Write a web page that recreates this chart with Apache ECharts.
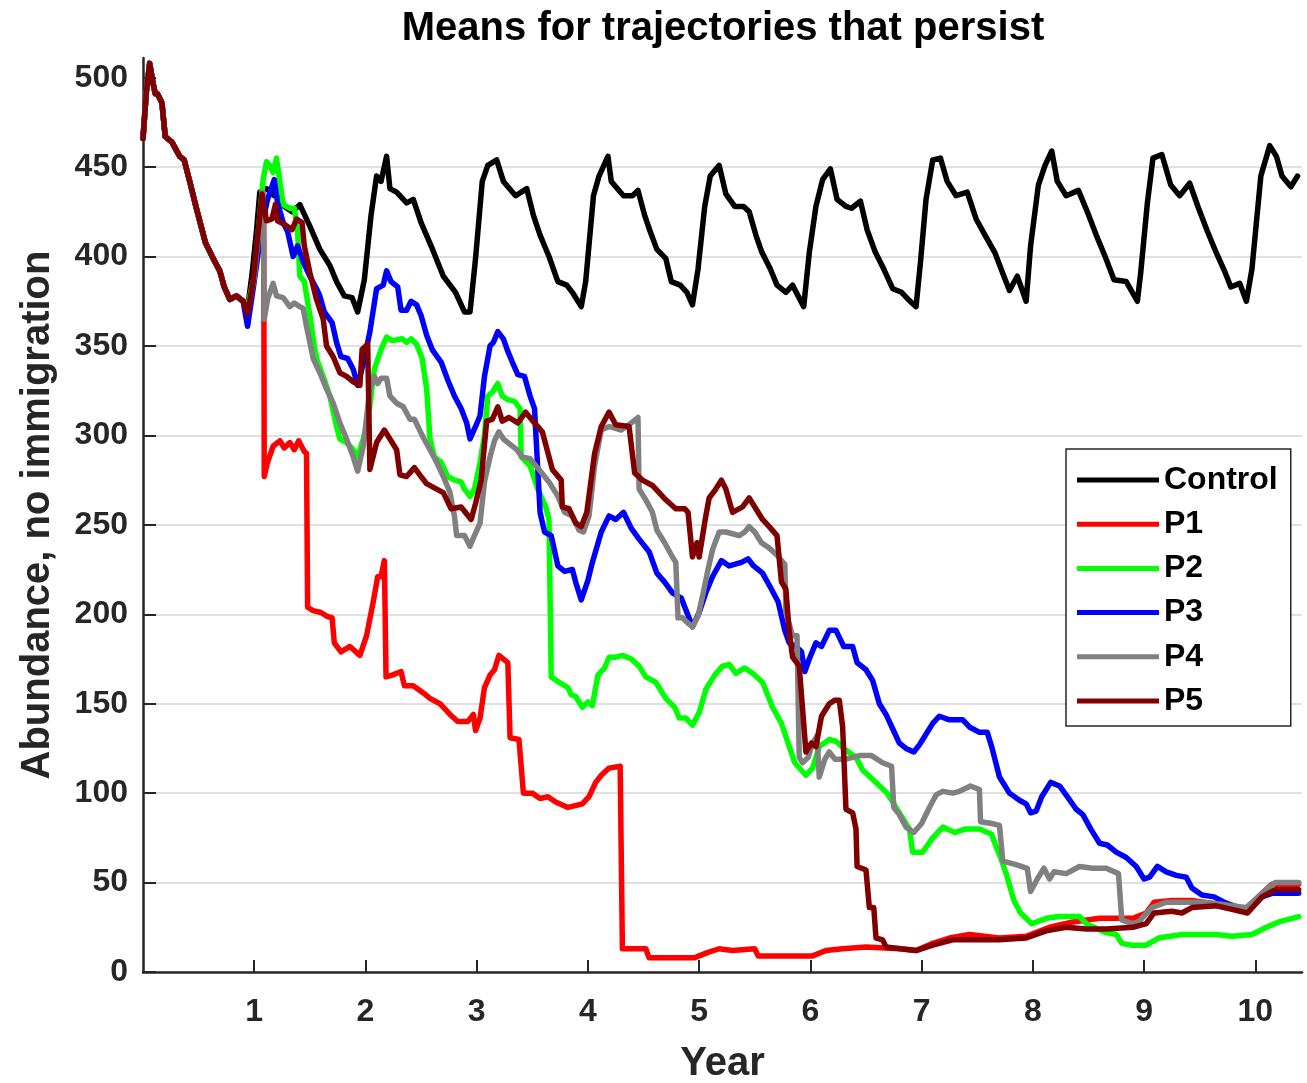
<!DOCTYPE html>
<html>
<head>
<meta charset="utf-8">
<title>Means for trajectories that persist</title>
<script src="https://cdn.jsdelivr.net/npm/echarts@6/dist/echarts.min.js"></script>
<style>
  html, body { margin: 0; padding: 0; background: #fff; }
  #chart { width: 1307px; height: 1083px; }
</style>
</head>
<body>
<div id="chart"></div>
<script>
// [year, abundance]
const commonStart = [[0,466],[0.03,492],[0.06,508],[0.09,497],[0.11,491],[0.13,491],[0.17,486],[0.2,467],[0.26,464],[0.33,456],[0.37,454],[0.42,442],[0.48,427],[0.56,408],[0.63,399],[0.69,392],[0.73,383],[0.78,376],[0.84,378],[0.9,375]];

const controlTail = [[0.94,371],[0.98,390],[1.02,414],[1.05,436],[1.11,438],[1.18,434],[1.23,434],[1.27,428],[1.34,425],[1.41,429],[1.5,417],[1.59,404],[1.68,395],[1.74,386],[1.81,378],[1.88,377],[1.93,369],[1.99,387],[2.05,423],[2.1,445],[2.14,442],[2.19,456],[2.22,438],[2.28,436],[2.37,430],[2.43,432],[2.5,419],[2.59,406],[2.7,389],[2.81,380],[2.89,369],[2.94,369],[2.99,399],[3.05,442],[3.1,451],[3.18,454],[3.24,442],[3.35,434],[3.45,438],[3.51,423],[3.57,412],[3.65,400],[3.73,386],[3.81,384],[3.86,380],[3.94,372],[3.98,386],[4.05,434],[4.1,445],[4.18,456],[4.21,442],[4.32,434],[4.4,434],[4.45,437],[4.51,423],[4.56,414],[4.62,404],[4.7,399],[4.75,386],[4.83,384],[4.89,380],[4.94,373],[4.99,393],[5.05,428],[5.1,445],[5.18,451],[5.24,435],[5.32,428],[5.4,428],[5.45,425],[5.51,412],[5.56,403],[5.64,393],[5.7,384],[5.78,380],[5.84,384],[5.94,372],[5.99,402],[6.05,428],[6.11,443],[6.18,449],[6.24,432],[6.32,428],[6.37,427],[6.45,431],[6.51,415],[6.58,403],[6.66,393],[6.74,382],[6.82,380],[6.88,376],[6.95,372],[6.99,397],[7.04,432],[7.1,454],[7.17,455],[7.23,442],[7.31,434],[7.41,436],[7.49,421],[7.57,412],[7.66,402],[7.74,389],[7.79,381],[7.86,389],[7.94,375],[7.98,406],[8.05,440],[8.11,451],[8.17,459],[8.22,442],[8.3,434],[8.41,437],[8.49,425],[8.57,412],[8.65,400],[8.73,387],[8.84,386],[8.94,375],[8.97,391],[9.03,430],[9.08,455],[9.16,457],[9.24,440],[9.32,434],[9.41,441],[9.49,427],[9.57,414],[9.65,402],[9.73,391],[9.78,383],[9.86,385],[9.92,375],[9.97,393],[10.05,445],[10.13,462],[10.19,456],[10.24,445],[10.32,439],[10.38,445]];

const p1Tail = [[0.94,369],[0.98,380],[1.03,405],[1.07,420],[1.085,432],[1.09,277],[1.12,285],[1.17,294],[1.23,297],[1.27,293],[1.32,296],[1.36,292],[1.4,297],[1.45,291],[1.47,290],[1.48,204],[1.53,202],[1.6,201],[1.65,199],[1.7,198],[1.72,184],[1.78,179],[1.86,182],[1.95,177],[2.01,188],[2.07,207],[2.11,221],[2.14,221],[2.17,230],[2.185,165],[2.24,166],[2.32,168],[2.35,160],[2.43,160],[2.52,156],[2.58,153],[2.67,150],[2.76,144],[2.83,140],[2.92,140],[2.97,144],[2.99,135],[3.03,142],[3.07,159],[3.12,166],[3.16,169],[3.2,177],[3.28,173],[3.3,131],[3.38,130],[3.42,100],[3.5,100],[3.57,97],[3.64,98],[3.71,95],[3.82,92],[3.95,94],[4.01,98],[4.07,106],[4.12,110],[4.19,114],[4.29,115],[4.31,13],[4.44,13],[4.52,13],[4.55,8],[4.7,8],[4.96,8],[5.0,9],[5.08,11],[5.18,13],[5.3,12],[5.5,13],[5.53,9],[5.75,9],[6.02,9],[6.14,12],[6.29,13],[6.5,14],[6.8,13],[6.95,12],[7.1,16],[7.25,19],[7.43,21],[7.7,19],[7.94,20],[8.15,25],[8.36,28],[8.6,30],[8.75,30],[8.9,30],[9.02,33],[9.09,39],[9.25,40],[9.43,40],[9.65,38],[9.79,36],[9.93,35],[10.06,44],[10.15,49],[10.39,49]];

const p2Tail = [[0.94,372],[1.0,389],[1.08,443],[1.11,453],[1.14,451],[1.17,447],[1.2,455],[1.23,442],[1.26,429],[1.32,427],[1.36,427],[1.39,414],[1.41,389],[1.45,386],[1.5,367],[1.54,350],[1.56,343],[1.62,333],[1.68,322],[1.74,305],[1.77,298],[1.83,296],[1.89,292],[1.93,288],[1.98,298],[2.02,307],[2.08,337],[2.14,348],[2.19,355],[2.24,353],[2.33,354],[2.37,352],[2.41,354],[2.46,351],[2.51,343],[2.55,326],[2.58,298],[2.62,288],[2.68,285],[2.74,277],[2.8,275],[2.86,274],[2.89,270],[2.94,266],[2.98,270],[3.03,285],[3.07,300],[3.1,322],[3.14,324],[3.19,329],[3.23,322],[3.28,320],[3.34,319],[3.39,315],[3.4,288],[3.48,283],[3.55,270],[3.62,260],[3.65,253],[3.67,165],[3.74,162],[3.82,159],[3.85,155],[3.89,154],[3.95,148],[4.0,151],[4.04,149],[4.09,166],[4.15,170],[4.19,176],[4.25,176],[4.31,177],[4.39,175],[4.46,171],[4.52,165],[4.61,162],[4.7,153],[4.78,148],[4.82,142],[4.88,142],[4.94,138],[5.0,145],[5.06,158],[5.14,166],[5.21,171],[5.27,172],[5.33,167],[5.41,170],[5.48,167],[5.57,162],[5.66,148],[5.74,139],[5.81,126],[5.86,117],[5.96,110],[6.02,114],[6.08,126],[6.17,130],[6.23,129],[6.32,124],[6.41,120],[6.47,113],[6.59,106],[6.69,100],[6.74,95],[6.82,87],[6.89,80],[6.92,67],[7.01,67],[7.1,75],[7.19,81],[7.3,78],[7.4,80],[7.52,80],[7.63,77],[7.67,70],[7.71,64],[7.76,55],[7.83,40],[7.89,33],[7.99,27],[8.12,30],[8.24,31],[8.42,31],[8.48,27],[8.66,22],[8.75,21],[8.8,16],[8.89,15],[9.02,15],[9.13,19],[9.34,21],[9.65,21],[9.79,20],[9.97,21],[10.1,25],[10.21,28],[10.39,31]];

const p3Tail = [[0.94,361],[1.0,386],[1.07,417],[1.12,432],[1.18,443],[1.21,430],[1.26,419],[1.3,414],[1.35,400],[1.39,406],[1.44,397],[1.5,389],[1.56,382],[1.59,378],[1.63,369],[1.7,363],[1.74,352],[1.78,344],[1.84,343],[1.89,337],[1.93,328],[1.98,340],[2.04,358],[2.1,382],[2.16,384],[2.19,392],[2.23,386],[2.29,383],[2.32,370],[2.37,370],[2.41,375],[2.46,373],[2.5,367],[2.55,356],[2.6,348],[2.68,341],[2.74,331],[2.8,322],[2.86,315],[2.91,307],[2.94,298],[2.99,305],[3.03,311],[3.07,333],[3.12,350],[3.15,352],[3.19,358],[3.24,354],[3.28,347],[3.32,341],[3.37,334],[3.43,333],[3.48,322],[3.52,315],[3.57,257],[3.61,246],[3.67,244],[3.73,227],[3.79,224],[3.86,225],[3.89,218],[3.94,208],[4.0,219],[4.04,229],[4.12,246],[4.19,255],[4.25,253],[4.32,257],[4.39,248],[4.46,242],[4.55,235],[4.62,223],[4.69,218],[4.76,212],[4.84,209],[4.89,201],[4.94,193],[5.0,201],[5.06,212],[5.12,221],[5.2,230],[5.27,227],[5.38,229],[5.44,231],[5.49,227],[5.57,223],[5.65,214],[5.71,207],[5.77,191],[5.81,184],[5.87,182],[5.92,179],[5.95,168],[5.99,175],[6.05,184],[6.1,182],[6.17,191],[6.23,191],[6.3,182],[6.38,182],[6.42,173],[6.5,169],[6.56,163],[6.62,150],[6.68,144],[6.74,136],[6.8,128],[6.86,125],[6.93,123],[6.98,127],[7.02,131],[7.1,139],[7.16,143],[7.25,141],[7.37,141],[7.43,137],[7.52,134],[7.59,134],[7.63,126],[7.7,109],[7.79,100],[7.88,96],[7.94,94],[7.98,89],[8.03,90],[8.08,98],[8.16,106],[8.24,104],[8.31,98],[8.39,91],[8.45,88],[8.52,80],[8.6,72],[8.67,71],[8.75,67],[8.84,64],[8.93,59],[9.0,52],[9.05,53],[9.12,59],[9.2,56],[9.29,54],[9.38,53],[9.43,47],[9.52,43],[9.63,42],[9.72,39],[9.85,36],[9.94,34],[10.06,42],[10.15,44],[10.39,44]];

const p4Tail = [[0.94,369],[1.0,388],[1.05,420],[1.08,436],[1.09,365],[1.12,376],[1.17,385],[1.2,378],[1.26,377],[1.32,372],[1.36,374],[1.41,372],[1.44,371],[1.47,361],[1.53,343],[1.59,335],[1.65,326],[1.71,318],[1.77,307],[1.83,298],[1.89,288],[1.93,280],[1.98,294],[2.04,326],[2.08,333],[2.11,329],[2.14,332],[2.19,332],[2.22,322],[2.28,318],[2.34,316],[2.4,309],[2.44,309],[2.51,300],[2.58,292],[2.64,285],[2.7,277],[2.76,268],[2.8,255],[2.82,244],[2.89,244],[2.94,238],[2.98,244],[3.03,251],[3.07,274],[3.12,288],[3.16,297],[3.2,302],[3.24,298],[3.3,295],[3.36,292],[3.41,288],[3.48,287],[3.56,281],[3.65,274],[3.73,266],[3.79,257],[3.86,255],[3.92,247],[3.96,246],[4.01,255],[4.06,283],[4.12,303],[4.19,305],[4.3,303],[4.39,307],[4.45,310],[4.46,270],[4.52,264],[4.58,257],[4.62,247],[4.69,240],[4.76,232],[4.79,229],[4.81,198],[4.85,198],[4.9,195],[4.94,193],[4.99,199],[5.03,210],[5.08,225],[5.12,236],[5.18,246],[5.24,246],[5.3,245],[5.36,244],[5.41,246],[5.45,249],[5.5,246],[5.56,240],[5.63,237],[5.7,233],[5.77,228],[5.78,201],[5.84,188],[5.88,188],[5.9,120],[5.93,117],[5.98,120],[6.02,128],[6.06,132],[6.08,109],[6.13,119],[6.17,123],[6.22,119],[6.32,119],[6.44,121],[6.55,121],[6.65,117],[6.73,115],[6.75,92],[6.8,88],[6.86,81],[6.93,78],[7.0,83],[7.07,92],[7.13,99],[7.19,101],[7.28,100],[7.34,101],[7.44,104],[7.52,102],[7.53,84],[7.63,83],[7.7,82],[7.73,62],[7.85,60],[7.95,58],[7.98,45],[8.04,52],[8.1,58],[8.15,52],[8.19,56],[8.3,55],[8.42,59],[8.54,58],[8.66,58],[8.77,55],[8.8,29],[8.9,27],[8.95,28],[9.07,36],[9.2,39],[9.34,39],[9.5,39],[9.68,38],[9.92,36],[10.06,44],[10.18,50],[10.39,50]];

const p5Tail = [[0.94,368],[0.99,386],[1.07,435],[1.11,420],[1.16,421],[1.19,429],[1.21,420],[1.27,418],[1.34,415],[1.38,421],[1.43,419],[1.45,406],[1.5,391],[1.56,376],[1.62,365],[1.65,350],[1.71,344],[1.77,335],[1.83,333],[1.89,330],[1.95,328],[1.97,348],[2.02,351],[2.04,281],[2.1,296],[2.17,303],[2.23,297],[2.28,292],[2.31,278],[2.37,277],[2.44,282],[2.5,277],[2.55,273],[2.64,270],[2.7,268],[2.77,259],[2.86,260],[2.95,253],[2.99,262],[3.04,275],[3.09,308],[3.14,309],[3.19,316],[3.23,308],[3.29,310],[3.37,307],[3.44,313],[3.52,307],[3.59,302],[3.68,281],[3.76,275],[3.77,260],[3.83,259],[3.89,251],[3.94,249],[3.99,257],[4.06,290],[4.12,305],[4.19,313],[4.25,306],[4.37,305],[4.42,279],[4.49,275],[4.58,272],[4.7,264],[4.79,259],[4.87,259],[4.9,257],[4.94,232],[4.98,240],[5.0,232],[5.06,255],[5.09,265],[5.15,270],[5.2,275],[5.24,270],[5.3,257],[5.39,260],[5.45,265],[5.51,259],[5.57,253],[5.63,249],[5.7,244],[5.74,218],[5.78,214],[5.81,190],[5.84,176],[5.9,171],[5.93,147],[5.96,123],[6.01,128],[6.05,126],[6.1,143],[6.17,150],[6.22,152],[6.26,152],[6.29,137],[6.32,91],[6.38,89],[6.41,80],[6.42,59],[6.5,57],[6.53,36],[6.57,36],[6.59,19],[6.65,18],[6.68,14],[6.95,12],[7.1,15],[7.28,18],[7.5,18],[7.7,18],[7.94,19],[8.12,23],[8.3,25],[8.48,24],[8.66,24],[8.9,25],[9.02,27],[9.09,33],[9.25,34],[9.34,33],[9.43,36],[9.65,37],[9.79,35],[9.93,33],[10.06,42],[10.18,46],[10.39,46]];

const seriesNames = ['Control', 'P1', 'P2', 'P3', 'P4', 'P5'];
const seriesColors = ['#000000', '#ff0000', '#00ff00', '#0000ff', '#808080', '#800000'];
const seriesTails = [controlTail, p1Tail, p2Tail, p3Tail, p4Tail, p5Tail];
const yearTicks = [1, 2, 3, 4, 5, 6, 7, 8, 9, 10];
const abundanceTicks = [0, 50, 100, 150, 200, 250, 300, 350, 400, 450, 500];

const font = '"Liberation Sans", Arial, sans-serif';
const axisColor = '#262626';

const chart = echarts.init(document.getElementById('chart'));

chart.setOption({
  animation: false,
  backgroundColor: '#fff',
  title: {
    text: 'Means for trajectories that persist',
    left: 723,
    top: 9,
    padding: 0,
    textAlign: 'center',
    textStyle: { fontFamily: font, fontSize: 40, fontWeight: 'bold', color: '#000' }
  },
  grid: { left: 143, right: 5, top: 58, bottom: 111, outerBoundsMode: 'none', containLabel: false },
  legend: {
    orient: 'vertical',
    left: 1066,
    top: 449,
    padding: [15, 13, 9, 11],
    backgroundColor: '#fff',
    borderColor: axisColor,
    borderWidth: 1.5,
    icon: 'rect',
    itemWidth: 82,
    itemHeight: 5,
    itemGap: 12.2,
    textStyle: { fontFamily: font, fontSize: 32, fontWeight: 'bold', color: '#000', lineHeight: 32 },
    data: seriesNames
  },
  xAxis: {
    type: 'value',
    min: 0,
    max: 10.42,
    interval: 1,
    name: 'Year',
    nameLocation: 'middle',
    nameGap: 72,
    nameTextStyle: { fontFamily: font, fontSize: 40, fontWeight: 'bold', color: axisColor },
    axisLine: { lineStyle: { color: axisColor, width: 2.5 } },
    axisTick: { inside: true, length: 12, customValues: yearTicks, lineStyle: { color: axisColor, width: 2 } },
    axisLabel: {
      customValues: yearTicks,
      margin: 24,
      fontFamily: font, fontSize: 32, fontWeight: 'bold', color: axisColor,
      formatter: v => (Number.isInteger(v) && v >= 1 && v <= 10) ? String(v) : ''
    },
    splitLine: { show: false }
  },
  yAxis: {
    type: 'value',
    min: 0,
    max: 511,
    interval: 50,
    name: 'Abundance, no immigration',
    nameLocation: 'middle',
    nameGap: 85,
    nameTextStyle: { fontFamily: font, fontSize: 40, fontWeight: 'bold', color: axisColor },
    axisLine: { show: true, lineStyle: { color: axisColor, width: 2.5 } },
    axisTick: { show: true, inside: true, length: 13, customValues: abundanceTicks, lineStyle: { color: axisColor, width: 2 } },
    axisLabel: {
      customValues: abundanceTicks,
      margin: 15,
      fontFamily: font, fontSize: 32, fontWeight: 'bold', color: axisColor,
      formatter: v => (v % 50 === 0) ? String(v) : ''
    },
    splitLine: { show: true, showMinLine: false, showMaxLine: false, lineStyle: { color: '#e0e0e0', width: 2 } }
  },
  series: seriesNames.map((name, i) => ({
    name: name,
    type: 'line',
    data: commonStart.concat(seriesTails[i]),
    showSymbol: false,
    symbol: 'none',
    itemStyle: { color: seriesColors[i] },
    lineStyle: { color: seriesColors[i], width: 5.5, join: 'round', cap: 'round' },
    emphasis: { disabled: true },
    z: 2 + i
  }))
});
</script>
</body>
</html>
